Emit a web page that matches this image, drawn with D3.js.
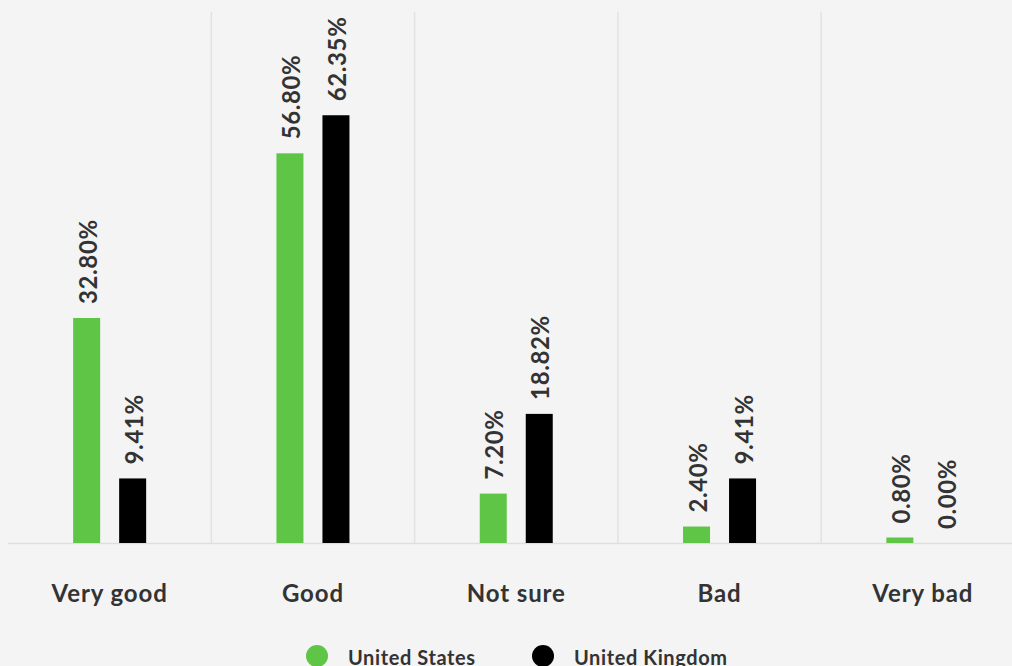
<!DOCTYPE html>
<html>
<head>
<meta charset="utf-8">
<script src="https://cdn.jsdelivr.net/npm/d3@7"></script>
<style>
  html, body { margin: 0; padding: 0; background: #f4f4f4; }
  svg { display: block; }
  text { font-family: Lato, "Open Sans", sans-serif; font-weight: 700; fill: #333; }
</style>
</head>
<body>
<script>
const categories = ["Very good", "Good", "Not sure", "Bad", "Very bad"];
const seriesNames = ["United States", "United Kingdom"];
const usValues = [32.80, 56.80, 7.20, 2.40, 0.80];
const ukValues = [9.41, 62.35, 18.82, 9.41, 0.00];
const seriesColors = ["#5fc546", "#000000"];

const W = 1012, H = 666;
const plotLeft = 8, bandW = 203.3, baseY = 543, topY = 12;

const svg = d3.select("body").append("svg").attr("width", W).attr("height", H);

const x = d3.scaleBand()
  .domain(categories)
  .range([plotLeft, plotLeft + bandW * categories.length])
  .paddingInner(0).paddingOuter(0);

// two bars per category, 27px wide, 46px apart
const x1 = d3.scaleBand()
  .domain(seriesNames)
  .range([x.bandwidth() / 2 - 36.5, x.bandwidth() / 2 + 36.5])
  .paddingInner(19 / 46).paddingOuter(0);

const y = d3.scaleLinear().domain([0, 77.4]).range([baseY, topY]);

// vertical separators between categories
svg.append("g").selectAll("line")
  .data(categories.slice(1))
  .join("line")
  .attr("x1", d => x(d)).attr("x2", d => x(d))
  .attr("y1", topY).attr("y2", baseY)
  .attr("stroke", "#e2e2e2").attr("stroke-width", 1.5);

// baseline
svg.append("line")
  .attr("x1", plotLeft).attr("x2", W)
  .attr("y1", baseY + 0.5).attr("y2", baseY + 0.5)
  .attr("stroke", "#dedede").attr("stroke-width", 1.5);

const rows = categories.map((c, i) => ({
  cat: c,
  vals: [
    { s: seriesNames[0], v: usValues[i], color: seriesColors[0] },
    { s: seriesNames[1], v: ukValues[i], color: seriesColors[1] }
  ]
}));

const groups = svg.append("g").selectAll("g")
  .data(rows)
  .join("g")
  .attr("transform", d => `translate(${x(d.cat)},0)`);

groups.selectAll("rect")
  .data(d => d.vals)
  .join("rect")
  .attr("x", d => x1(d.s))
  .attr("width", x1.bandwidth())
  .attr("y", d => y(d.v))
  .attr("height", d => baseY - y(d.v))
  .attr("fill", d => d.color);

groups.selectAll("text.val")
  .data(d => d.vals)
  .join("text")
  .attr("class", "val")
  .attr("transform", d => `translate(${x1(d.s) + x1.bandwidth() / 2 + 10},${y(d.v) - 14}) rotate(-90)`)
  .attr("font-size", 24)
  .attr("letter-spacing", 0.6)
  .text(d => d.v.toFixed(2) + "%");

// category labels
svg.append("g").selectAll("text")
  .data(categories)
  .join("text")
  .attr("x", d => x(d) + x.bandwidth() / 2)
  .attr("y", 602)
  .attr("text-anchor", "middle")
  .attr("font-size", 24)
  .attr("letter-spacing", 0.9)
  .text(d => d);

// legend
const legendItems = [
  { name: seriesNames[0], color: seriesColors[0], cx: 317 },
  { name: seriesNames[1], color: seriesColors[1], cx: 543 }
];
const lg = svg.append("g").selectAll("g").data(legendItems).join("g");
lg.append("circle").attr("cx", d => d.cx).attr("cy", 656).attr("r", 11).attr("fill", d => d.color);
lg.append("text").attr("x", d => d.cx + 31).attr("y", 665).attr("font-size", 20).attr("letter-spacing", 0.6).text(d => d.name);
</script>
</body>
</html>
